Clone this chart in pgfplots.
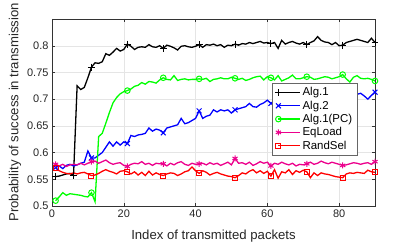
\documentclass[border=0pt]{standalone}
\usepackage{fontspec}
\setmainfont{Liberation Sans}
\usepackage{pgfplots}
\usepackage{pgfplotstable}
\pgfplotsset{compat=1.18}
\pgfplotstableread{
x a1 a2 pc eq rs
1 0.555 0.572 0.510 0.578 0.571
2 0.556 0.575 0.517 0.575 0.566
3 0.558 0.570 0.525 0.578 0.563
4 0.560 0.576 0.520 0.574 0.561
5 0.561 0.578 0.523 0.577 0.560
6 0.557 0.575 0.522 0.578 0.562
7 0.725 0.577 0.521 0.577 0.560
8 0.718 0.580 0.520 0.580 0.562
9 0.722 0.582 0.518 0.577 0.563
10 0.740 0.603 0.517 0.580 0.560
11 0.760 0.590 0.525 0.583 0.557
12 0.768 0.590 0.508 0.584 0.558
13 0.767 0.595 0.630 0.580 0.561
14 0.770 0.600 0.636 0.583 0.565
15 0.785 0.610 0.655 0.586 0.568
16 0.782 0.620 0.675 0.581 0.565
17 0.788 0.612 0.693 0.578 0.563
18 0.795 0.620 0.703 0.580 0.560
19 0.790 0.614 0.710 0.581 0.565
20 0.793 0.620 0.714 0.576 0.566
21 0.803 0.617 0.716 0.574 0.564
22 0.799 0.632 0.719 0.578 0.560
23 0.793 0.630 0.724 0.580 0.564
24 0.797 0.633 0.726 0.579 0.558
25 0.798 0.634 0.731 0.583 0.563
26 0.797 0.636 0.728 0.578 0.557
27 0.802 0.646 0.733 0.580 0.565
28 0.798 0.640 0.732 0.576 0.558
29 0.797 0.644 0.730 0.580 0.562
30 0.800 0.642 0.736 0.579 0.559
31 0.795 0.637 0.740 0.579 0.557
32 0.801 0.646 0.737 0.575 0.560
33 0.799 0.648 0.736 0.580 0.562
34 0.796 0.650 0.744 0.577 0.561
35 0.792 0.652 0.735 0.581 0.557
36 0.799 0.664 0.737 0.583 0.560
37 0.800 0.654 0.738 0.578 0.564
38 0.798 0.656 0.736 0.576 0.566
39 0.797 0.660 0.737 0.580 0.573
40 0.799 0.664 0.737 0.578 0.566
41 0.802 0.678 0.738 0.579 0.561
42 0.797 0.664 0.737 0.580 0.566
43 0.802 0.668 0.739 0.577 0.563
44 0.801 0.670 0.733 0.581 0.558
45 0.803 0.680 0.737 0.578 0.561
46 0.800 0.676 0.738 0.580 0.563
47 0.802 0.680 0.740 0.576 0.560
48 0.797 0.678 0.738 0.579 0.558
49 0.801 0.680 0.738 0.582 0.556
50 0.800 0.674 0.741 0.577 0.555
51 0.803 0.680 0.739 0.589 0.553
52 0.801 0.682 0.737 0.580 0.557
53 0.804 0.684 0.739 0.581 0.562
54 0.803 0.686 0.735 0.578 0.560
55 0.806 0.692 0.737 0.582 0.565
56 0.804 0.686 0.740 0.576 0.568
57 0.806 0.685 0.742 0.579 0.562
58 0.808 0.690 0.743 0.583 0.566
59 0.805 0.693 0.736 0.580 0.561
60 0.806 0.698 0.742 0.582 0.565
61 0.804 0.692 0.740 0.575 0.556
62 0.806 0.695 0.736 0.580 0.568
63 0.795 0.697 0.744 0.578 0.552
64 0.810 0.694 0.734 0.582 0.564
65 0.803 0.698 0.737 0.579 0.562
66 0.806 0.700 0.740 0.577 0.568
67 0.808 0.697 0.745 0.580 0.559
68 0.805 0.701 0.738 0.575 0.566
69 0.803 0.699 0.738 0.578 0.563
70 0.806 0.702 0.740 0.577 0.567
71 0.802 0.700 0.742 0.579 0.564
72 0.806 0.703 0.741 0.582 0.553
73 0.809 0.701 0.737 0.578 0.562
74 0.817 0.704 0.738 0.580 0.557
75 0.810 0.702 0.740 0.584 0.562
76 0.807 0.705 0.742 0.581 0.560
77 0.806 0.703 0.741 0.579 0.559
78 0.802 0.706 0.738 0.582 0.557
79 0.806 0.704 0.740 0.580 0.555
80 0.800 0.707 0.742 0.578 0.554
81 0.801 0.705 0.746 0.576 0.553
82 0.806 0.708 0.738 0.577 0.560
83 0.808 0.706 0.732 0.579 0.562
84 0.810 0.708 0.741 0.581 0.561
85 0.812 0.709 0.744 0.580 0.563
86 0.810 0.711 0.739 0.578 0.562
87 0.808 0.706 0.738 0.580 0.561
88 0.806 0.700 0.739 0.581 0.567
89 0.814 0.707 0.737 0.578 0.564
90 0.806 0.713 0.734 0.583 0.563
}\datatable
\begin{document}
\begin{tikzpicture}
\useasboundingbox (-52bp,-38bp) rectangle (363bp,206bp);
\begin{axis}[
  at={(0,0)}, anchor=south west,
  scale only axis, width=323bp, height=187bp,
  xmin=0, xmax=90, ymin=0.5, ymax=0.85,
  xtick={0,20,40,60,80},
  ytick={0.5,0.55,0.6,0.65,0.7,0.75,0.8},
  yticklabels={0.5,0.55,0.6,0.65,0.7,0.75,0.8},
  xticklabels={0,20,40,60,80},
  tick align=inside,
  major tick length=3bp,
  grid=major,
  grid style={gray!20, line width=0.4pt},
  axis line style={black!80, line width=0.5pt},
  tick style={black!80},
  ticklabel style={font=\fontsize{11}{12}\selectfont, text=black!85},
  xlabel={Index of transmitted packets},
  ylabel={Probability of success in transmission},
  label style={font=\fontsize{13.2}{15}\selectfont, text=black!85},
  xlabel style={at={(axis description cs:0.5,0)}, anchor=center, yshift=-30bp},
  ylabel style={at={(axis description cs:0,0.5)}, anchor=center, yshift=37bp},
  legend style={at={(0.944,0.658)}, anchor=north east, font=\fontsize{11.5}{14}\selectfont,
    draw=black!60, fill=white, row sep=-0.5pt, inner sep=2.5pt},
  legend image code/.code={%
    \draw[mark repeat=2, mark phase=2] plot coordinates {(0cm,0cm) (0.38cm,0cm) (0.76cm,0cm)};},
  legend cell align=left,
  every axis plot/.append style={line width=1.3pt},
  mark options={solid, line width=1pt},
]
\addplot[black, mark=+, mark size=3.5pt, mark indices={1,6,11,21,31,41,51,61,71,81,90}] table[x=x,y=a1]{\datatable};
\addlegendentry{Alg.1}
\addplot[blue, mark=x, mark size=3.5pt, mark indices={1,11,21,31,41,51,61,71,81,90}] table[x=x,y=a2]{\datatable};
\addlegendentry{Alg.2}
\addplot[green, mark=o, mark size=2.8pt, mark indices={1,11,21,31,41,51,61,71,81,90}] table[x=x,y=pc]{\datatable};
\addlegendentry{Alg.1(PC)}
\addplot[magenta, mark=asterisk, mark size=3pt, mark indices={1,11,21,31,41,51,61,71,81,90}] table[x=x,y=eq]{\datatable};
\addlegendentry{EqLoad}
\addplot[red, mark=square, mark size=2.5pt, mark indices={1,11,21,31,41,51,61,71,81,90}] table[x=x,y=rs]{\datatable};
\addlegendentry{RandSel}
\end{axis}
\end{tikzpicture}
\end{document}
